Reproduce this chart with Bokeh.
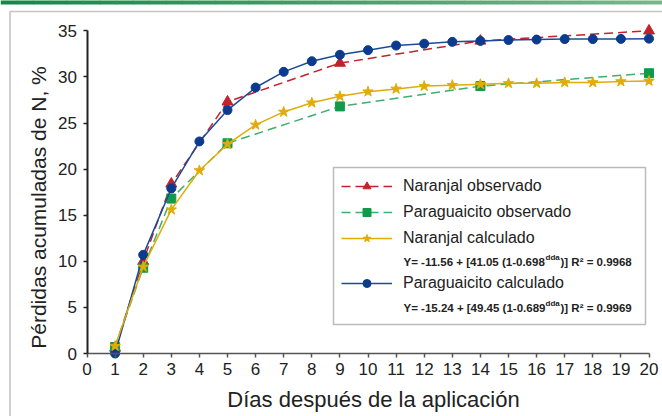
from math import pi
from bokeh.plotting import figure
from bokeh.models import (Range1d, Label, BoxAnnotation, Legend, LegendItem,
                          FixedTicker)
from bokeh.embed import file_html
from bokeh.resources import INLINE

# ---------------- data ----------------
days = list(range(1, 21))
paraguaicito_calc = [0.0, 10.7, 17.9, 23.0, 26.4, 28.85, 30.55, 31.7, 32.4, 32.9,
                     33.4, 33.6, 33.8, 33.9, 34.0, 34.05, 34.1, 34.1, 34.12, 34.15]
naranjal_calc = [0.8, 9.4, 15.6, 19.85, 22.7, 24.8, 26.2, 27.2, 27.9, 28.4,
                 28.7, 29.0, 29.1, 29.2, 29.3, 29.3, 29.4, 29.4, 29.5, 29.55]
obs_days = [1, 2, 3, 5, 9, 14, 20]
naranjal_obs = [0.6, 10.0, 18.4, 27.3, 31.5, 33.9, 35.0]
paraguaicito_obs = [0.7, 9.3, 16.8, 22.8, 26.8, 29.0, 30.4]
x_ticks = list(range(0, 21))
y_ticks = [0, 5, 10, 15, 20, 25, 30, 35]

series_names = ["Naranjal observado", "Paraguaicito observado",
                "Naranjal calculado", "Paraguaicito calculado"]
formula_1 = ["Y= -11.56 + [41.05 (1-0.698", "dda", ")] R\u00b2 = 0.9968"]
formula_2 = ["Y= -15.24 + [49.45 (1-0.689", "dda", ")] R\u00b2 = 0.9969"]
x_title = "D\u00edas despu\u00e9s de la aplicaci\u00f3n"
y_title = "P\u00e9rdidas acumuladas de N, %"

# ---------------- style / layout ----------------
FONT = "Liberation Sans"
RED = "#c4212b"
GREEN = "#119a4a"
GREEN_LINE = "#3fae6e"
GOLD = "#e0ac08"
BLUE_LINE = "#1c4a98"
BLUE = "#0b3b8e"
TXT = "#222222"

W, H = 662, 416
# pixel position of data origin and pixels per unit (frame covers whole canvas)
OX, KX = 86.5, 28.1
OY, KY = 353.0, 9.22


def xd(px):
    return (px - OX) / KX


def yd(py):
    return (OY - py) / KY


p = figure(width=W, height=H, output_backend="svg", toolbar_location=None,
           x_range=Range1d(xd(0), xd(W)), y_range=Range1d(yd(H), yd(0)),
           min_border_left=0, min_border_right=0,
           min_border_top=0, min_border_bottom=0)
p.title.visible = False
p.background_fill_color = "white"
p.border_fill_color = "white"
p.outline_line_color = None
p.xgrid.visible = False
p.ygrid.visible = False

p.xaxis.fixed_location = 0
p.yaxis.fixed_location = 0
p.xaxis.bounds = (0, 20)
p.yaxis.bounds = (0, 35)
p.xaxis.ticker = FixedTicker(ticks=x_ticks)
p.yaxis.ticker = FixedTicker(ticks=y_ticks)
for ax, col, lw in ((p.xaxis, "#555555", 1.6), (p.yaxis, "#222222", 2)):
    ax.axis_line_color = col
    ax.axis_line_width = lw
    ax.major_tick_line_color = col
    ax.major_tick_line_width = 1.5
    ax.major_tick_in = 0
    ax.major_tick_out = 4
    ax.minor_tick_line_color = None
    ax.major_label_text_font = FONT
    ax.major_label_text_font_size = "17px"
    ax.major_label_text_color = TXT
p.xaxis.major_label_standoff = 5
p.yaxis.major_label_standoff = 6

# ---------------- page decoration (green bar + card border) ----------------
c0 = (0x12, 0x89, 0x46)
c1 = (0x78, 0xb5, 0x88)
nseg = 40
for i in range(nseg):
    t = i / (nseg - 1)
    col = "#%02x%02x%02x" % tuple(int(round(a + (b - a) * t)) for a, b in zip(c0, c1))
    p.add_layout(BoxAnnotation(left=xd(W * i / nseg), right=xd(W * (i + 1) / nseg + 0.5),
                               top=yd(-1), bottom=yd(4), fill_color=col, fill_alpha=1,
                               line_color=None, level="underlay"))
p.add_layout(BoxAnnotation(left=xd(9.5), top=yd(11), right=xd(W + 30), bottom=yd(H + 30),
                           fill_color=None, fill_alpha=0, line_color="#3a3a3a",
                           line_width=1.6, level="underlay"))

# ---------------- glyphs ----------------
r_red_l = p.line(obs_days, naranjal_obs, line_color=RED, line_width=1.5, line_dash="9 5")
r_red_m = p.scatter(obs_days, naranjal_obs, marker="triangle", size=11,
                    fill_color=RED, line_color=RED)
r_grn_l = p.line(obs_days, paraguaicito_obs, line_color=GREEN_LINE, line_width=1.5,
                 line_dash="9 5")
r_grn_m = p.scatter(obs_days, paraguaicito_obs, marker="square", size=9,
                    fill_color=GREEN, line_color=GREEN)
r_blu_l = p.line(days, paraguaicito_calc, line_color=BLUE_LINE, line_width=1.5)
r_blu_m = p.scatter(days, paraguaicito_calc, marker="circle", size=9,
                    fill_color=BLUE, line_color=BLUE)
r_gld_l = p.line(days, naranjal_calc, line_color=GOLD, line_width=1.5)
r_gld_m = p.scatter(days, naranjal_calc, marker="star", size=11,
                    fill_color=GOLD, line_color=GOLD)

# ---------------- legend ----------------
box = BoxAnnotation(left=xd(333), right=xd(645), top=yd(167), bottom=yd(324),
                    fill_color="white", fill_alpha=1, line_color="#1e1e1e",
                    line_width=1.5, level="underlay")
p.add_layout(box)

leg_common = dict(padding=0, spacing=6, label_height=20, glyph_height=20,
                  glyph_width=51, label_standoff=11, border_line_color=None,
                  background_fill_alpha=0, label_text_font=FONT,
                  label_text_font_size="16px", label_text_color=TXT, margin=0)
legA = Legend(items=[
    LegendItem(label=series_names[0], renderers=[r_red_l, r_red_m]),
    LegendItem(label=series_names[1], renderers=[r_grn_l, r_grn_m]),
    LegendItem(label=series_names[2], renderers=[r_gld_l, r_gld_m]),
], location=(341, H - 248), **leg_common)
legB = Legend(items=[
    LegendItem(label=series_names[3], renderers=[r_blu_l, r_blu_m]),
], location=(341, H - 293), **leg_common)
p.add_layout(legA)
p.add_layout(legB)


def formula(parts, py):
    xs = [403, 545, 560]
    sizes = ["11.5px", "8px", "11.5px"]
    dys = [0, -4, 0]
    for t, x, s, dy in zip(parts, xs, sizes, dys):
        p.add_layout(Label(x=xd(x), y=yd(py + dy), text=t, text_font=FONT,
                           text_font_size=s, text_font_style="bold",
                           text_color=TXT, text_baseline="middle"))


formula(formula_1, 261)
formula(formula_2, 307)

# ---------------- axis titles ----------------
p.add_layout(Label(x=xd(373), y=yd(399), text=x_title, text_font=FONT,
                   text_font_size="22px", text_color=TXT,
                   text_align="center", text_baseline="middle"))
p.add_layout(Label(x=xd(38), y=yd(207), text=y_title, text_font=FONT,
                   text_font_size="21px", text_color=TXT, angle=pi / 2,
                   text_align="center", text_baseline="middle"))

open("out.html", "w").write(file_html(p, INLINE))
